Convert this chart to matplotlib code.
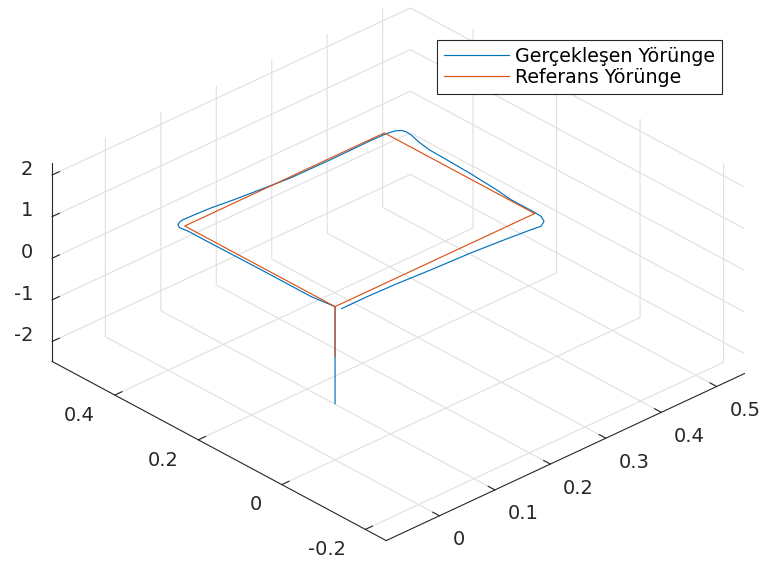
import matplotlib
matplotlib.use('Agg')
import matplotlib.pyplot as plt

# Reference path: climb from the origin, then a square at constant altitude.
ref_x = [0.0, 0.0, 0.0, 0.36, 0.36, 0.0]
ref_y = [0.0, 0.0, 0.36, 0.36, 0.0, 0.0]
ref_z = [0.0, 1.2, 1.2, 1.2, 1.2, 1.2]

# Flown path, read along the square (overshoots at each corner).
act_x = [0.000, 0.000, -0.005, -0.005, -0.006, -0.006, -0.008, -0.004, 0.002,
         0.009, 0.029, 0.057, 0.095, 0.144, 0.188, 0.260, 0.335, 0.361, 0.374,
         0.381, 0.383, 0.382, 0.377, 0.373, 0.372, 0.370, 0.366, 0.362, 0.362,
         0.361, 0.355, 0.343, 0.327, 0.284, 0.228, 0.160, 0.098, 0.050, 0.003]
act_y = [0.000, 0.000, 0.050, 0.170, 0.300, 0.345, 0.362, 0.371, 0.375,
         0.377, 0.376, 0.374, 0.368, 0.362, 0.357, 0.356, 0.357, 0.356, 0.353,
         0.347, 0.338, 0.324, 0.301, 0.270, 0.232, 0.170, 0.100, 0.060, 0.007,
         -0.014, -0.029, -0.0375, -0.0345, -0.029, -0.023, -0.019, -0.014, -0.012, -0.012]
act_z = [-1.13, 1.2, 1.2, 1.2, 1.2, 1.2, 1.2, 1.2, 1.2,
         1.2, 1.2, 1.2, 1.2, 1.2, 1.2, 1.2, 1.2, 1.2, 1.2,
         1.2, 1.2, 1.2, 1.2, 1.2, 1.2, 1.2, 1.2, 1.2, 1.2,
         1.2, 1.2, 1.2, 1.2, 1.2, 1.2, 1.2, 1.2, 1.2, 1.2]

series_labels = ['Gerçekleşen Yörünge', 'Referans Yörünge']

x_ticks = [0, 0.1, 0.2, 0.3, 0.4, 0.5]
x_ticklabels = ['0', '0.1', '0.2', '0.3', '0.4', '0.5']
y_ticks = [-0.2, 0, 0.2, 0.4]
y_ticklabels = ['-0.2', '0', '0.2', '0.4']
z_ticks = [-2, -1, 0, 1, 2]
z_ticklabels = ['-2', '-1', '0', '1', '2']

x_lim = (-0.096, 0.55)
y_lim = (-0.25, 0.55)
z_lim = (-2.48, 2.30)

blue = '#0072BD'
orange = '#D95319'
dark = '#262626'

plt.rcParams['font.family'] = ['DejaVu Sans']
plt.rcParams['grid.color'] = '#e0e0e0'
plt.rcParams['grid.linewidth'] = 0.8

fig = plt.figure(figsize=(7.71, 5.70), dpi=100)
ax = fig.add_axes([0.0031, -0.1648, 1.0, 1.3526], projection='3d',
                  proj_type='ortho')
ax.view_init(elev=30, azim=-133)
ax.set_box_aspect((1, 1, 0.469), zoom=0.919)

line_act, = ax.plot(act_x, act_y, act_z, color=blue, linewidth=0.85)
line_ref, = ax.plot(ref_x, ref_y, ref_z, color=orange, linewidth=0.85)

ax.set_xlim(*x_lim)
ax.set_ylim(*y_lim)
ax.set_zlim(*z_lim)
ax.set_xticks(x_ticks)
ax.set_xticklabels(x_ticklabels, ha='left', va='top')
ax.set_yticks(y_ticks)
ax.set_yticklabels(y_ticklabels, ha='right', va='center')
ax.set_zticks(z_ticks)
ax.set_zticklabels(z_ticklabels, ha='right', va='baseline')

for axis in (ax.xaxis, ax.yaxis, ax.zaxis):
    axis.set_pane_color((1, 1, 1, 0))
    axis.pane.set_edgecolor('none')
    axis.line.set_color(dark)
    axis.line.set_linewidth(0.8)
    axis._axinfo['tick']['inward_factor'] = 0.0
    axis._axinfo['tick']['outward_factor'] = 0.25
    axis._axinfo['tick']['linewidth'] = {True: 0.8, False: 0.8}
    axis._axinfo['tick']['color'] = dark

ax.tick_params(axis='both', labelsize=14, colors=dark)
ax.tick_params(axis='x', pad=3.1)
ax.tick_params(axis='y', pad=8.0)
ax.tick_params(axis='z', labelsize=14, colors=dark, pad=-0.1)
ax.grid(True)

legend = fig.legend([line_act, line_ref], series_labels, loc='upper right',
                    bbox_to_anchor=(0.936, 0.929), fontsize=13.7, frameon=True,
                    fancybox=False, shadow=False, framealpha=1, edgecolor=dark,
                    borderpad=0.35, handlelength=3.45, handletextpad=0.3,
                    labelspacing=0.1, borderaxespad=0)
legend.get_frame().set_linewidth(0.8)

fig.savefig('out.png', dpi=100)
